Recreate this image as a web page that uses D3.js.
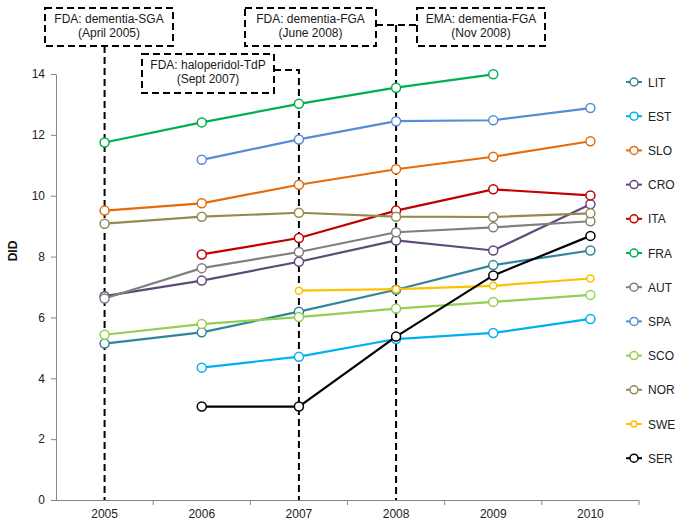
<!DOCTYPE html>
<html>
<head>
<meta charset="utf-8">
<script src="https://cdn.jsdelivr.net/npm/d3@7"></script>
<style>
  body { margin: 0; background: #fff; }
  svg { font-family: "Liberation Sans", Arial, sans-serif; }
  .axis path, .axis line { stroke: #868686; }
  .axis text { fill: #222; font-size: 12px; }
</style>
</head>
<body>
<div id="chart"></div>
<script>
// categories
var years = [2005, 2006, 2007, 2008, 2009, 2010];
var yTicks = [0, 2, 4, 6, 8, 10, 12, 14];

// series (DID), null = no data
var countries = ["LIT", "EST", "SLO", "CRO", "ITA", "FRA", "AUT", "SPA", "SCO", "NOR", "SWE", "SER"];
var LIT = [5.14, 5.51, 6.19, 6.91, 7.72, 8.20];
var EST = [null, 4.35, 4.71, 5.29, 5.49, 5.95];
var SLO = [9.51, 9.75, 10.36, 10.87, 11.28, 11.79];
var CRO = [6.70, 7.21, 7.83, 8.53, 8.20, 9.72];
var ITA = [null, 8.07, 8.61, 9.51, 10.21, 10.01];
var FRA = [11.75, 12.41, 13.02, 13.55, 13.99, null];
var AUT = [6.62, 7.62, 8.15, 8.80, 8.96, 9.16];
var SPA = [null, 11.18, 11.85, 12.45, 12.48, 12.88];
var SCO = [5.43, 5.78, 6.01, 6.29, 6.51, 6.74];
var NOR = [9.08, 9.31, 9.44, 9.31, 9.30, 9.42];
var SWE = [null, null, 6.88, 6.93, 7.04, 7.28];
var SER = [null, 3.07, 3.07, 5.37, 7.38, 8.68];

// regulatory warnings
var warnLines = ["FDA: dementia-SGA|(April 2005)", "FDA: haloperidol-TdP|(Sept 2007)",
                 "FDA: dementia-FGA|(June 2008)", "EMA: dementia-FGA|(Nov 2008)"];
var warnYears = [2005, 2007, 2008, 2008];

var values = {LIT: LIT, EST: EST, SLO: SLO, CRO: CRO, ITA: ITA, FRA: FRA,
              AUT: AUT, SPA: SPA, SCO: SCO, NOR: NOR, SWE: SWE, SER: SER};
var colors = {LIT: "#31849B", EST: "#00B0F0", SLO: "#E46C0A", CRO: "#604A7B",
              ITA: "#C00000", FRA: "#00B050", AUT: "#808080", SPA: "#558ED5",
              SCO: "#92D050", NOR: "#948A54", SWE: "#FFC000", SER: "#000000"};

var w = 683, h = 525;

var svg = d3.select("#chart").append("svg")
  .attr("width", w)
  .attr("height", h);

var x = d3.scaleBand().domain(years).range([56, 639]).padding(0);
var y = d3.scaleLinear().domain([0, 14]).range([500, 74]);
var cx = function(yr) { return x(yr) + x.bandwidth() / 2; };

// dashed warning lines + boxes (behind the data)
var boxes = [
  {x: 45, y: 8, w: 128, h: 38},
  {x: 142, y: 54, w: 132, h: 39},
  {x: 245, y: 8, w: 131, h: 38},
  {x: 417, y: 8, w: 128, h: 38}
];
var dash = "7,4";
var ann = svg.append("g").attr("id", "warnings");

// 2005: straight down from box bottom
ann.append("line")
  .attr("x1", cx(warnYears[0])).attr("x2", cx(warnYears[0]))
  .attr("y1", boxes[0].y + boxes[0].h).attr("y2", y(0));
// 2007: elbow from box right side
ann.append("path")
  .attr("d", "M" + (boxes[1].x + boxes[1].w) + ",70H" + cx(warnYears[1]) + "V" + y(0));
// 2008: joins the two boxes, then down
ann.append("line")
  .attr("x1", boxes[2].x + boxes[2].w).attr("x2", boxes[3].x)
  .attr("y1", 25).attr("y2", 25);
ann.append("line")
  .attr("x1", cx(warnYears[2])).attr("x2", cx(warnYears[2]))
  .attr("y1", 25).attr("y2", y(0));

ann.selectAll("line, path")
  .style("fill", "none")
  .style("stroke", "#000")
  .style("stroke-width", 2)
  .style("stroke-dasharray", dash);

boxes.forEach(function(b, i) {
  ann.append("rect")
    .attr("x", b.x).attr("y", b.y)
    .attr("width", b.w).attr("height", b.h)
    .style("fill", "#fff")
    .style("stroke", "#000")
    .style("stroke-width", 2)
    .style("stroke-dasharray", dash);
  var parts = warnLines[i].split("|");
  parts.forEach(function(t, j) {
    ann.append("text")
      .attr("x", b.x + b.w / 2)
      .attr("y", b.y + 15 + j * 14)
      .attr("text-anchor", "middle")
      .style("font-size", "12px")
      .style("fill", "#1a1a1a")
      .text(t);
  });
});

// axes
var yAxis = svg.append("g").attr("class", "axis")
  .attr("transform", "translate(56,0)")
  .call(d3.axisLeft(y).tickValues(yTicks).tickSize(5).tickPadding(6).tickSizeOuter(0));

var xAxis = svg.append("g").attr("class", "axis")
  .attr("transform", "translate(0," + y(0) + ")")
  .call(d3.axisBottom(x).tickSize(0).tickPadding(9));
xAxis.select(".domain").attr("d", "M56,0.5H639");
// ticks between the categories
xAxis.selectAll(".sep")
  .data(years.slice(1).concat(["end"]))
  .enter().append("line")
  .attr("class", "sep")
  .attr("x1", function(d) { return d === "end" ? 639 : x(d); })
  .attr("x2", function(d) { return d === "end" ? 639 : x(d); })
  .attr("y1", 0).attr("y2", 5);

svg.append("text")
  .attr("transform", "translate(17,251) rotate(-90)")
  .attr("text-anchor", "middle")
  .style("font-size", "12px")
  .style("font-weight", "bold")
  .style("fill", "#111")
  .text("DID");

// series
var line = d3.line()
  .defined(function(d) { return d.v !== null; })
  .x(function(d) { return cx(d.yr); })
  .y(function(d) { return y(d.v); });

var plot = svg.append("g").attr("id", "series");

countries.forEach(function(c) {
  var pts = years.map(function(yr, i) { return {yr: yr, v: values[c][i]}; });
  var g = plot.append("g").attr("id", c);
  g.append("path")
    .datum(pts)
    .attr("d", line)
    .style("fill", "none")
    .style("stroke", colors[c])
    .style("stroke-width", 2.2);
  g.selectAll("circle")
    .data(pts.filter(function(d) { return d.v !== null; }))
    .enter().append("circle")
    .attr("cx", function(d) { return cx(d.yr); })
    .attr("cy", function(d) { return y(d.v); })
    .attr("r", c === "SWE" ? 3.5 : 4.5)
    .style("fill", "#fff")
    .style("stroke", colors[c])
    .style("stroke-width", 1.5);
});

// legend
var legend = svg.append("g").attr("id", "legend");
countries.forEach(function(c, i) {
  var ly = 82 + i * 34.2;
  legend.append("line")
    .attr("x1", 626).attr("x2", 642)
    .attr("y1", ly).attr("y2", ly)
    .style("stroke", colors[c])
    .style("stroke-width", 2);
  legend.append("circle")
    .attr("cx", 634).attr("cy", ly)
    .attr("r", c === "SWE" ? 3 : 4)
    .style("fill", "#fff")
    .style("stroke", colors[c])
    .style("stroke-width", 1.5);
  legend.append("text")
    .attr("x", 648).attr("y", ly + 4.5)
    .style("font-size", "12px")
    .style("fill", "#222")
    .text(c);
});
</script>
</body>
</html>
